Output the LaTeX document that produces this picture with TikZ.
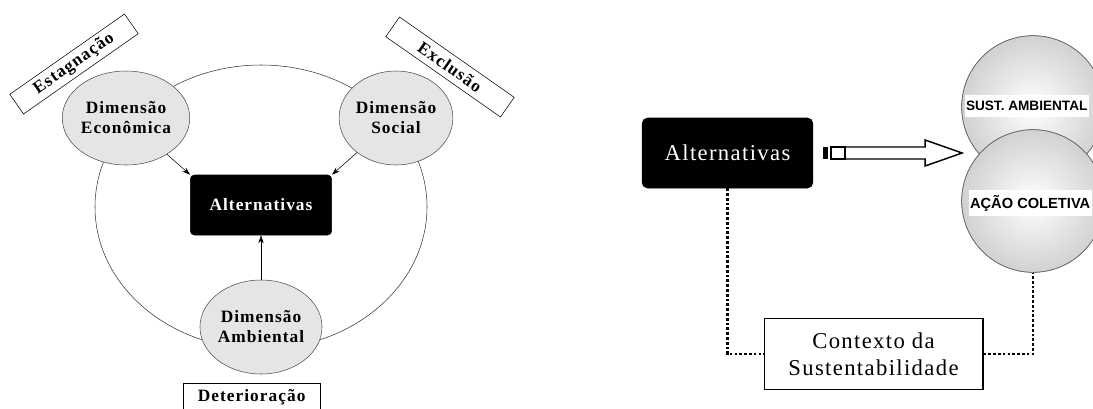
\documentclass[tikz,border=0pt]{standalone}
\usepackage{fontspec}
\setmainfont{Liberation Serif}
\setsansfont{Liberation Sans}
\newfontfamily\wideserif{Liberation Serif}[LetterSpace=6]
\usetikzlibrary{arrows.meta, positioning, shapes.geometric, calc}
\tikzset{%
	dim/.style={draw=black!70, ellipse, minimum width=81pt, minimum height=70.5pt, inner sep=0pt,%
		fill=black!10, align=center, font=\wideserif\bfseries\fontsize{13}{15}\selectfont},
	alt/.style={draw, rectangle, rounded corners=3pt, fill=black, text=white,%
		minimum width=106pt, minimum height=45pt, font=\wideserif\bfseries\fontsize{13}{15}\selectfont},
	tag/.style={draw, rectangle, fill=white, minimum width=105pt, minimum height=18pt, inner sep=0pt,%
		font=\wideserif\bfseries\fontsize{13}{15}\selectfont},
	sel/.style={-{Stealth[length=6pt, width=4pt]}, thin},
	sphere/.style={draw=black!60, circle, minimum size=107pt, inner sep=0pt, inner color=white, outer color=black!18},
	band/.style={fill=white, anchor=west, inner xsep=1pt, inner ysep=0pt, minimum height=17pt,%
		font=\sffamily\bfseries\fontsize{11}{13}\selectfont},
	ctx/.style={draw, line width=1pt, rectangle, minimum width=164pt, minimum height=53pt, align=center,%
		font=\wideserif\fontsize{17}{20}\selectfont},
	conn/.style={line width=2pt, dash pattern=on 2pt off 1.6pt},
	hollow/.style={draw, line width=1.1pt, fill=white}
}

\begin{document}
\begin{tikzpicture}[x=0.75pt, y=-0.75pt]
	\useasboundingbox (0,0) rectangle (1093,408);

	%cycle
	\draw [black!80] (261,207) ellipse [x radius=124.5pt, y radius=106.5pt];
	\node [dim] (eco) at (126,118) {Dimensão\\Econômica};
	\node [dim] (soc) at (396,118) {Dimensão\\Social};
	\node [dim] (amb) at (261,327) {Dimensão\\Ambiental};
	\node [alt] (alt) at (261,205) {Alternativas};

	%tags
	\node [tag, rotate=35] (stag) at (74,64) {Estagnação};
	\node [tag, rotate=-35] (excl) at (450,67) {Exclusão};
	\node [tag, minimum width=103pt, minimum height=21pt, below=6.75pt of amb, xshift=-7pt] (det) {Deterioração};

	%influence
	\draw [sel] (eco) -- (alt.north west);
	\draw [sel] (soc) -- (alt.north east);
	\draw [sel] (amb) -- (alt);

	%right side
	\node [alt, minimum width=128pt, minimum height=52.5pt, rounded corners=4pt,%
		font=\wideserif\fontsize{17}{20}\selectfont] (alt2) at (727.5,153) {Alternativas};
	\node [sphere] (sa) at (1033,107) {};
	\node [band, font=\sffamily\bfseries\fontsize{10.2}{13}\selectfont] (satxt) at ($(sa.west)+(3,-1)$) {SUST. AMBIENTAL};
	\draw [black!60] (sa.center) circle [radius=53.5pt];
	\node [sphere] (ac) at (1033,201) {};
	\node [band, minimum height=20pt] (actxt) at ($(ac.west)+(7,2)$) {AÇÃO COLETIVA};
	\draw [black!60] (ac.center) circle [radius=53.5pt];
	\node [ctx] (ctx) at (873.5,354) {Contexto da\\Sustentabilidade};

	%transfer
	\coordinate (tail) at ($(alt2.east)+(10,0)$);
	\fill (tail) ++(0,-6) rectangle ++(5,12);
	\draw [hollow] ($(tail)+(8,-6)$) rectangle ++(14,12);
	\draw [hollow] ($(tail)+(22,-6)$) -- ++(80,0) -- ++(0,-7) -- ++(37,13) -- ++(-37,13)
		-- ++(0,-7) -- ++(-80,0) -- cycle;

	%context
	\draw [conn] (alt2.south) |- (ctx.west);
	\draw [conn] (ctx.east) -| (ac.south);
\end{tikzpicture}
\end{document}
